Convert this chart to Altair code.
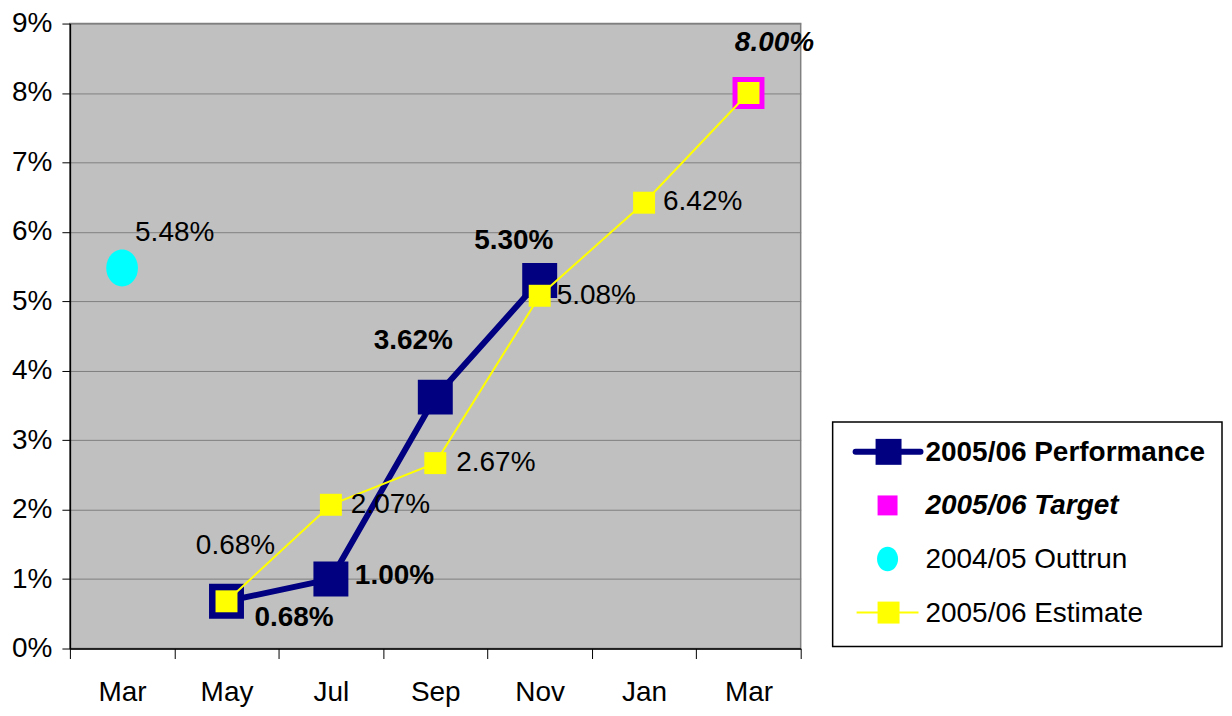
import json
import altair as alt
import pandas as pd

# ---------------- data ----------------
months = ["Mar", "May", "Jul", "Sep", "Nov", "Jan", "Mar"]
perf_idx = [1, 2, 3, 4]
perf_vals = [0.68, 1.00, 3.62, 5.30]
est_idx = [1, 2, 3, 4, 5, 6]
est_vals = [0.68, 2.07, 2.67, 5.08, 6.42, 8.00]
target_idx = [6]
target_vals = [8.00]
outturn_idx = [0]
outturn_vals = [5.48]
y_ticks = [0, 1, 2, 3, 4, 5, 6, 7, 8, 9]
legend_labels = ["2005/06 Performance", "2005/06 Target", "2004/05 Outtrun", "2005/06 Estimate"]


def frame(idx, vals):
    return pd.DataFrame({"pos": [i + 0.5 for i in idx], "value": vals, "k": list(range(len(idx)))})


perf_df = frame(perf_idx, perf_vals)
est_df = frame(est_idx, est_vals)
target_df = frame(target_idx, target_vals)
out_df = frame(outturn_idx, outturn_vals)

FONT = "Liberation Sans"
FS = 28
NAVY = "#000080"
YEL = "#FFFF00"
MAG = "#FF00FF"
CYAN = "#00FFFF"
ELLIPSE = "M0,-1A0.86,1,0,1,1,0,1A0.86,1,0,1,1,0,-1Z"

x_axis = alt.Axis(
    values=[i * 0.5 for i in range(2 * len(months) + 1)],
    labelExpr="datum.value % 1 == 0 ? '' : " + json.dumps(months).replace('"', "'") + "[floor(datum.value)]",
    tickOpacity={"condition": {"test": "datum.value % 1 == 0", "value": 1}, "value": 0},
    tickSize=10, tickColor="black", domainColor="black", domainWidth=1.5,
    grid=False, labelOverlap=False, labelFlush=False, labelPadding=20,
    labelFont=FONT, labelFontSize=FS, labelColor="black", title=None,
)
y_axis = alt.Axis(
    values=y_ticks, labelExpr="datum.value + '%'",
    tickSize=8, tickColor="black", domainColor="black", domainWidth=1.5,
    grid=True, gridColor="#808080", gridWidth=1,
    labelFont=FONT, labelFontSize=FS, labelColor="black", labelPadding=10, title=None,
)
X = alt.X("pos:Q", scale=alt.Scale(domain=[0, len(months)], nice=False, zero=False), axis=x_axis)
Y = alt.Y("value:Q", scale=alt.Scale(domain=[0, 9], nice=False), axis=y_axis)

layers = [
    alt.Chart(perf_df).mark_line(color=NAVY, strokeWidth=6).encode(x=X, y=Y),
    alt.Chart(perf_df).mark_square(color=NAVY, size=1225, opacity=1).encode(x=X, y=Y),
    alt.Chart(target_df).mark_square(color=MAG, size=1024, opacity=1).encode(x=X, y=Y),
    alt.Chart(est_df).mark_line(color=YEL, strokeWidth=2).encode(x=X, y=Y),
    alt.Chart(est_df).mark_square(color=YEL, size=484, opacity=1).encode(x=X, y=Y),
    alt.Chart(out_df).mark_point(shape=ELLIPSE, filled=True, color=CYAN, size=1369, opacity=1).encode(x=X, y=Y),
]

TXT = alt.Text("lbl:N")

# label placement styles: (k, dx, dy, align)
perf_lab = [(0, 28, 17, "left"), (1, 24, -3, "left"), (2, -22, -56, "center"), (3, -26, -40, "center")]
est_lab = [(0, 9, -55, "center"), (1, 20, 0, "left"), (2, 21, 0, "left"), (3, 17, 0, "left"), (4, 19, -1, "left")]
target_lab = [(0, 26, -50, "center")]
out_lab = [(0, 13, -35, "left")]


def label_layers(df, specs, weight="normal", style="normal"):
    out = []
    for k, dx, dy, align in specs:
        out.append(
            alt.Chart(df).transform_filter(alt.datum.k == k)
            .transform_calculate(lbl="format(datum.value, '.2f') + '%'")
            .mark_text(font=FONT, fontSize=FS, fontWeight=weight, fontStyle=style, color="black",
                       align=align, baseline="middle", dx=dx, dy=dy)
            .encode(x=X, y=Y, text=TXT)
        )
    return out


layers += label_layers(perf_df, perf_lab, weight="bold")
layers += label_layers(est_df, est_lab)
layers += label_layers(target_df, target_lab, weight="bold", style="italic")
layers += label_layers(out_df, out_lab)

main = alt.layer(*layers).properties(
    width=732, height=626,
    view=alt.ViewBackground(fill="#C0C0C0", stroke="#808080", strokeWidth=1.5),
)

# ---------------- legend panel ----------------
leg_df = pd.DataFrame({"label": legend_labels, "row": list(range(len(legend_labels)))})
LY = alt.Y("row:Q", scale=alt.Scale(domain=[0, 3], range=[429, 590]), axis=None)


def leg(row):
    return alt.Chart(leg_df).transform_filter(alt.datum.row == row)


legend_layers = [
    alt.Chart(leg_df.head(1)).mark_rect(fill="white", stroke="black", strokeWidth=1.5).encode(
        x=alt.value(0), x2=alt.value(390), y=alt.value(399), y2=alt.value(624)),
    leg(0).mark_rule(color=NAVY, strokeWidth=6, strokeCap="round").encode(x=alt.value(23), x2=alt.value(88), y=LY),
    leg(0).mark_square(color=NAVY, size=676, opacity=1).encode(x=alt.value(56), y=LY),
    leg(1).mark_square(color=MAG, size=400, opacity=1).encode(x=alt.value(55), y=LY),
    leg(2).mark_point(shape=ELLIPSE, filled=True, color=CYAN, size=600, opacity=1).encode(x=alt.value(55), y=LY),
    leg(3).mark_rule(color=YEL, strokeWidth=2).encode(x=alt.value(24), x2=alt.value(86), y=LY),
    leg(3).mark_square(color=YEL, size=484, opacity=1).encode(x=alt.value(56), y=LY),
]
leg_styles = [("bold", "normal"), ("bold", "italic"), ("normal", "normal"), ("normal", "normal")]
for r, (w, s) in enumerate(leg_styles):
    legend_layers.append(
        leg(r).mark_text(font=FONT, fontSize=FS, fontWeight=w, fontStyle=s, color="black",
                         align="left", baseline="middle", dy=1)
        .encode(x=alt.value(93), y=LY, text="label:N")
    )

legend = alt.layer(*legend_layers).properties(
    width=391, height=626,
    view=alt.ViewBackground(fill="white", stroke="transparent"),
)

chart = alt.hconcat(main, legend, spacing=32, bounds="flush").properties(
    padding={"left": 2, "top": 0, "right": 0, "bottom": 0},
    background="white",
).configure(font=FONT)

chart.save("out.html", embed_options={"renderer": "svg", "actions": False})
